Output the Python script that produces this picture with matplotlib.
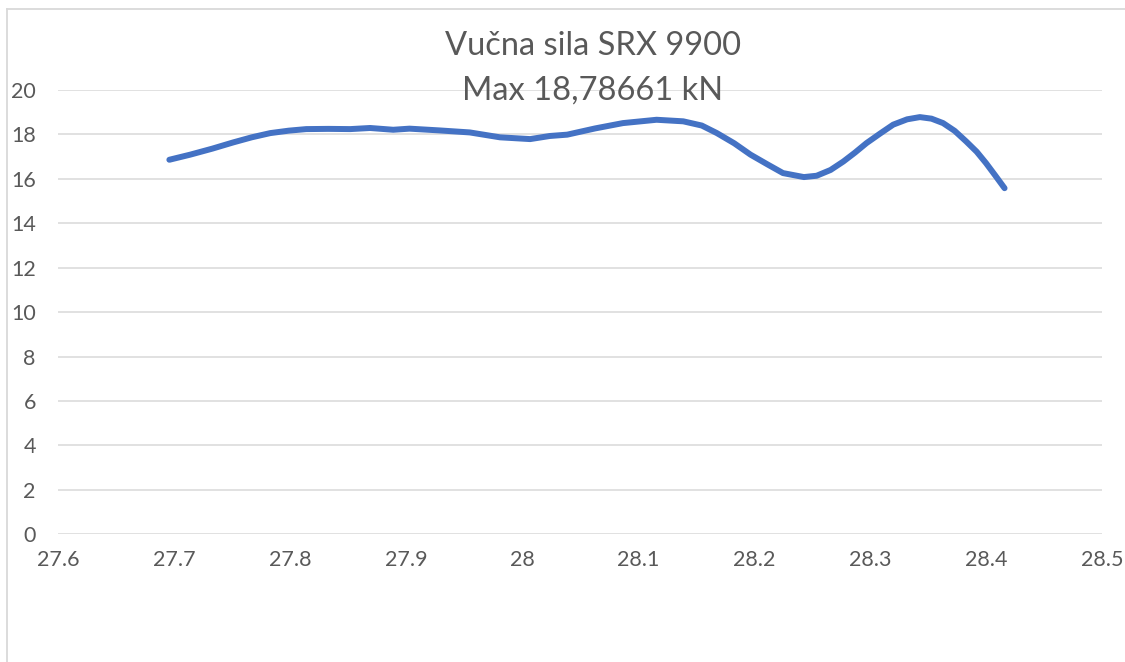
import matplotlib
matplotlib.use("Agg")
import matplotlib.pyplot as plt
from matplotlib.lines import Line2D

# speed/position (x) vs traction force in kN (y)
pos = [27.696, 27.714, 27.733, 27.751, 27.767, 27.783, 27.799, 27.814, 27.833,
       27.852, 27.869, 27.889, 27.903, 27.929, 27.955, 27.981, 28.007, 28.024,
       28.039, 28.063, 28.087, 28.116, 28.139, 28.155, 28.168, 28.183, 28.197,
       28.212, 28.225, 28.243, 28.254, 28.266, 28.277, 28.287, 28.297, 28.309,
       28.32, 28.332, 28.343, 28.353, 28.363, 28.373, 28.383, 28.392, 28.4,
       28.408, 28.416]
force = [16.86, 17.09, 17.36, 17.64, 17.87, 18.06, 18.17, 18.24, 18.25,
         18.24, 18.29, 18.21, 18.26, 18.18, 18.09, 17.87, 17.79, 17.93,
         17.99, 18.27, 18.51, 18.66, 18.59, 18.40, 18.06, 17.60, 17.09,
         16.64, 16.26, 16.08, 16.14, 16.40, 16.78, 17.18, 17.61, 18.05,
         18.44, 18.68, 18.78, 18.71, 18.51, 18.16, 17.68, 17.22, 16.71,
         16.15, 15.58]

x_ticks = [27.6, 27.7, 27.8, 27.9, 28.0, 28.1, 28.2, 28.3, 28.4, 28.5]
x_labels = ["27.6", "27.7", "27.8", "27.9", "28", "28.1", "28.2", "28.3", "28.4", "28.5"]
y_ticks = [0, 2, 4, 6, 8, 10, 12, 14, 16, 18, 20]

TITLE_1 = "Vučna sila SRX 9900"
TITLE_2 = "Max 18,78661 kN"

TEXT_GREY = "#595959"
GRID_GREY = "#d9d9d9"
LINE_BLUE = "#4472C4"

plt.rcParams["font.family"] = ["Lato", "DejaVu Sans"]

W, H = 1125, 662
fig = plt.figure(figsize=(W / 100, H / 100), dpi=100, facecolor="white")

# plot area in pixel terms
left, right, top, bottom = 58, 1102, 90, 534.3
ax = fig.add_axes([left / W, 1 - bottom / H, (right - left) / W, (bottom - top) / H])

ax.plot(pos, force, color=LINE_BLUE, linewidth=4.3,
        solid_capstyle="round", solid_joinstyle="round", zorder=3)

ax.set_xlim(27.6, 28.5)
ax.set_ylim(0, 20)
ax.set_xticks(x_ticks)
ax.set_xticklabels(x_labels)
ax.set_yticks(y_ticks)
ax.grid(axis="y", color=GRID_GREY, linewidth=1.1)
ax.set_axisbelow(True)
for s in ax.spines.values():
    s.set_visible(False)
ax.tick_params(axis="both", length=0, labelsize=15.5, labelcolor=TEXT_GREY)
ax.tick_params(axis="x", pad=11)
ax.tick_params(axis="y", pad=16)

fig.text(593 / W, 1 - 55 / H, TITLE_1, ha="center", va="baseline",
         fontsize=23.5, color=TEXT_GREY)
fig.text(593 / W, 1 - 100 / H, TITLE_2, ha="center", va="baseline",
         fontsize=23.5, color=TEXT_GREY)

# chart-area border (left and top edges visible in the crop)
fig.add_artist(Line2D([7 / W, 7 / W], [0, 1 - 9 / H], transform=fig.transFigure,
                      color=GRID_GREY, linewidth=1.3))
fig.add_artist(Line2D([7 / W, 1], [1 - 9 / H, 1 - 9 / H], transform=fig.transFigure,
                      color=GRID_GREY, linewidth=1.3))

fig.savefig("out.png", dpi=100, facecolor="white")
